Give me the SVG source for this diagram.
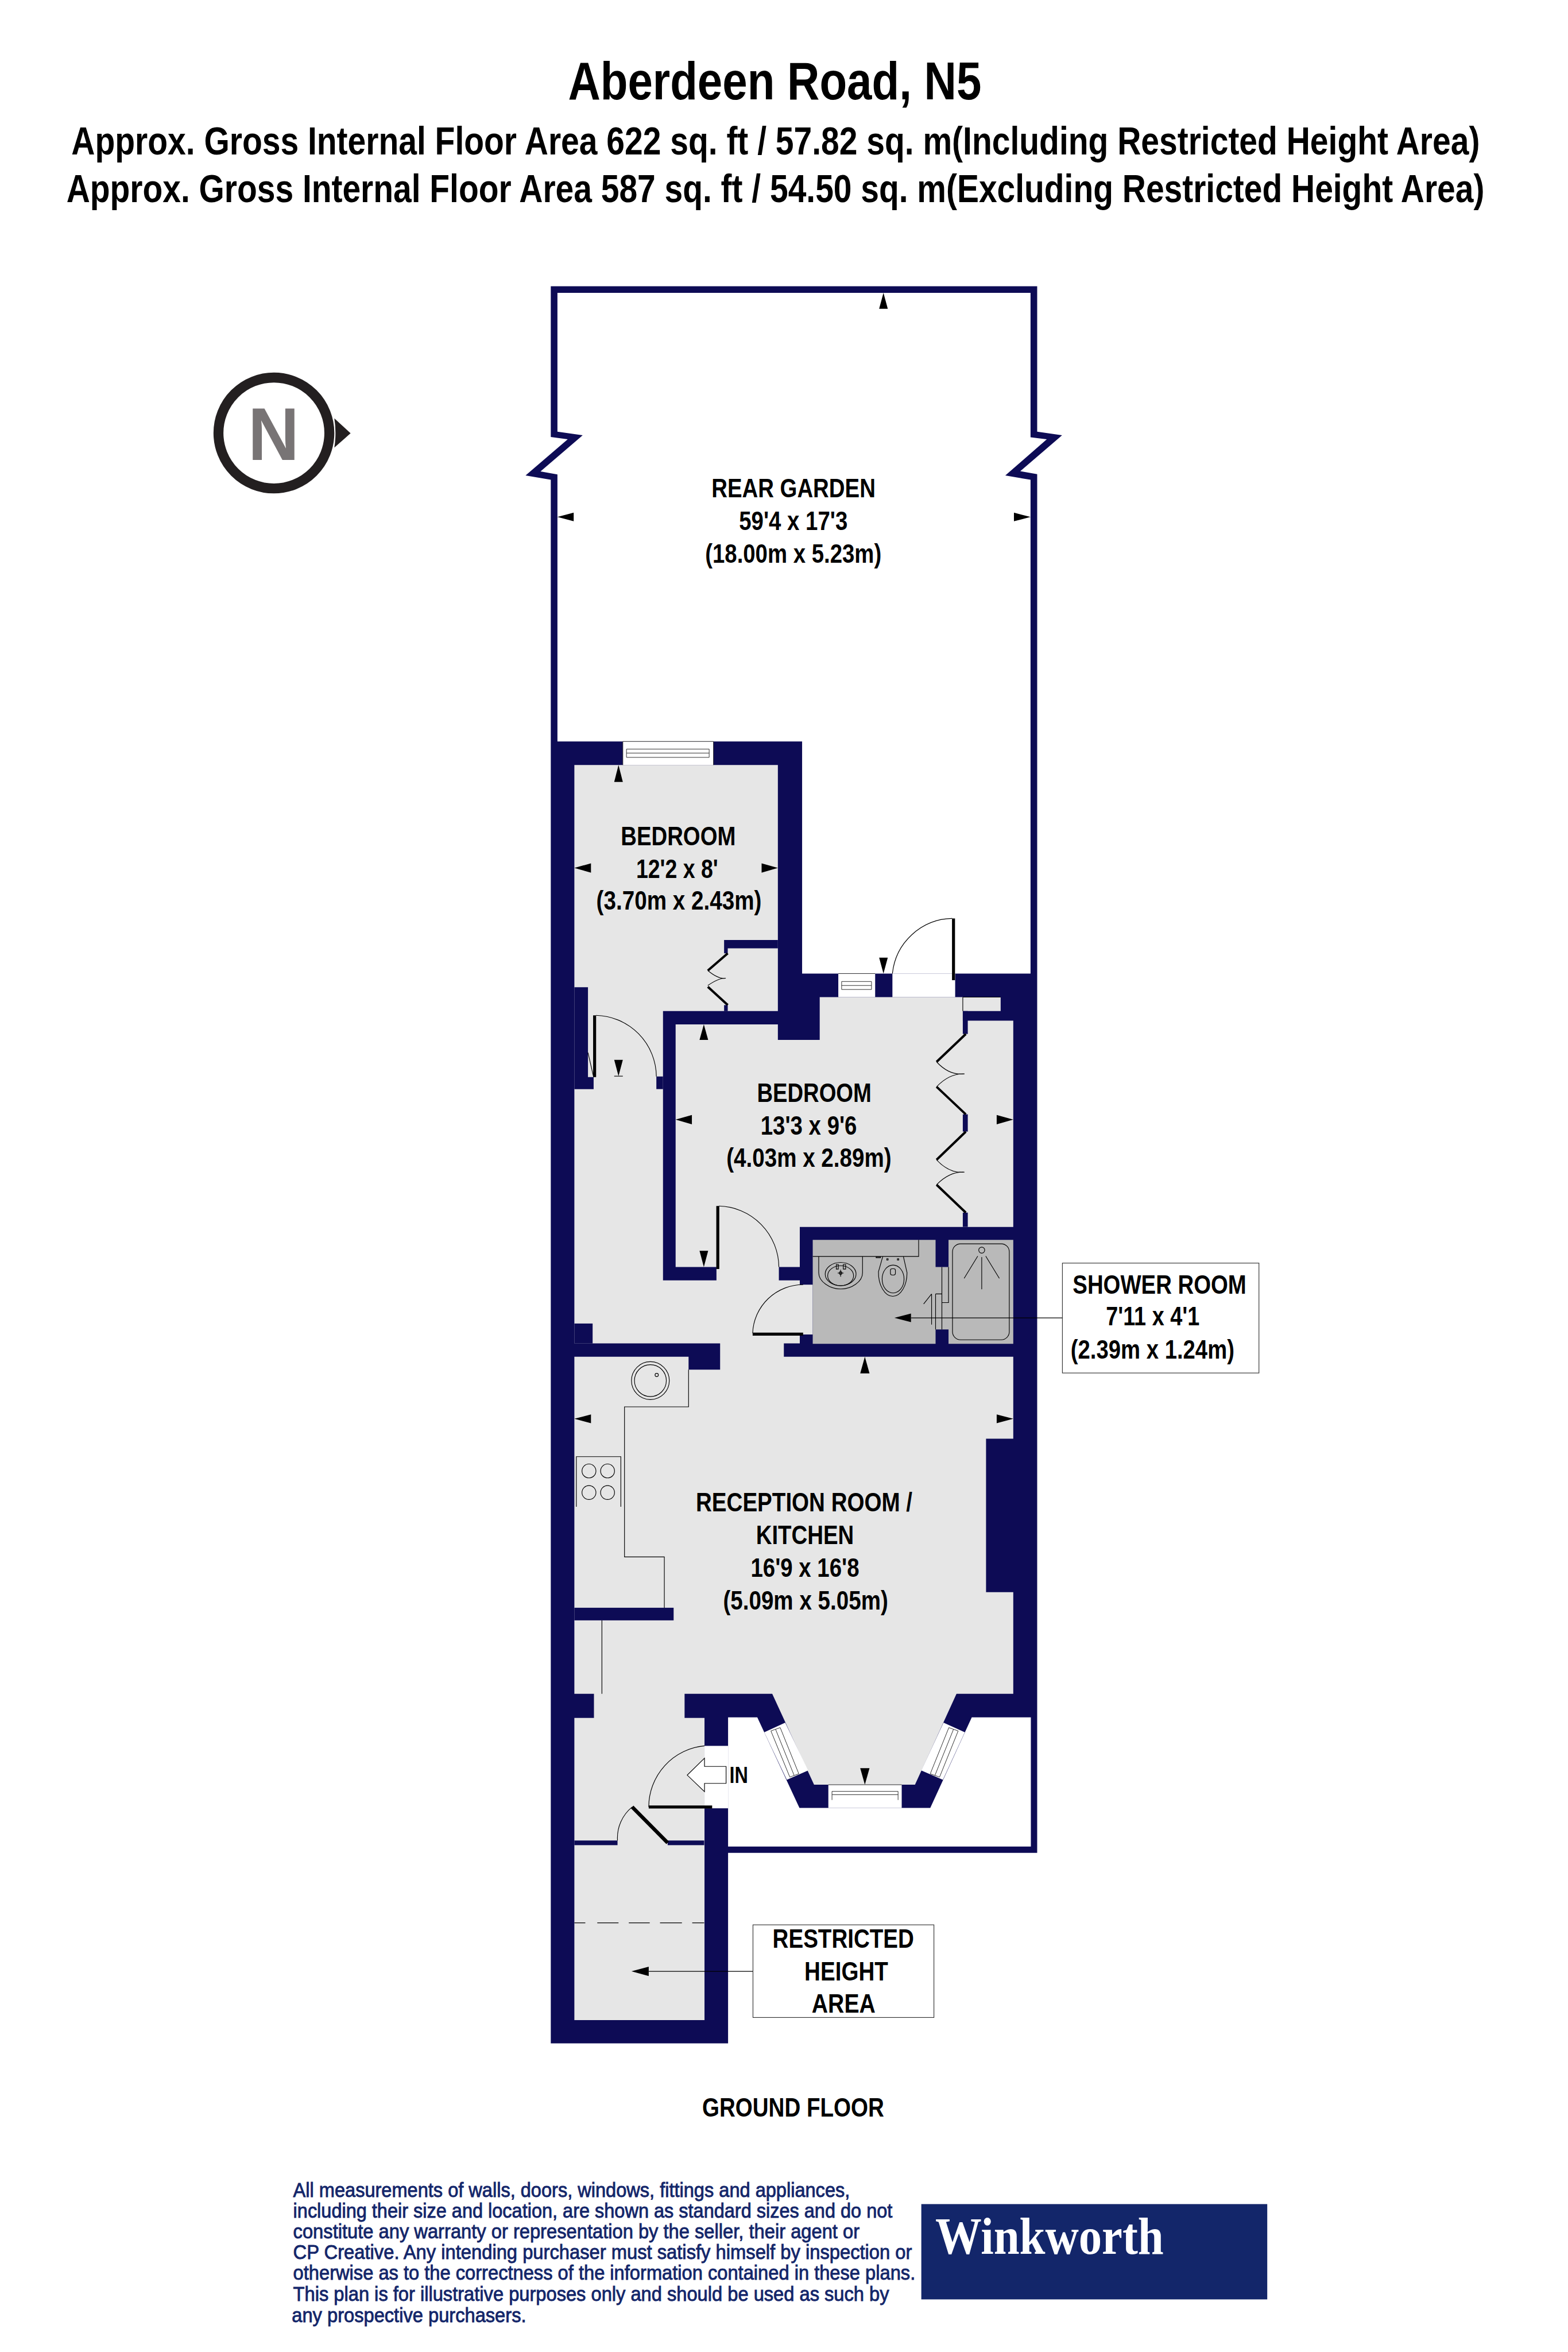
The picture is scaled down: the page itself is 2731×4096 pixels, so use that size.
<svg xmlns="http://www.w3.org/2000/svg" width="2731" height="4096" viewBox="0 0 2731 4096">
<style>
.nv{fill:#0d0b55}
.lg{fill:#e6e6e6}
.dg{fill:#b9b9b9}
.wh{fill:#fff}
.thin{fill:none;stroke:#000;stroke-width:2}
.win{fill:none;stroke:#222;stroke-width:1.6}
.thick{fill:none;stroke:#000;stroke-width:9}
.ar{fill:#000}
.lb{font-family:"Liberation Sans",Arial,sans-serif;font-weight:700;font-size:80px;fill:#000}
.ti{font-family:"Liberation Sans",Arial,sans-serif;font-weight:700;font-size:119px;fill:#000}
.fn{font-family:"Liberation Sans",Arial,sans-serif;font-size:62px;fill:#13266a;stroke:#13266a;stroke-width:1.6}
</style>
<rect width="2731" height="4096" fill="#fff"/>
<g transform="scale(0.57825)">
<g id="title">
<text class="ti" x="1711" y="300" style="font-size:160px" textLength="1245" lengthAdjust="spacingAndGlyphs">Aberdeen Road, N5</text>
<text class="ti" transform="scale(.72 1)" x="298.600" y="465" textLength="5892" lengthAdjust="spacingAndGlyphs">Approx. Gross Internal Floor Area 622 sq. ft / 57.82 sq. m(Including Restricted Height Area)</text>
<text class="ti" transform="scale(.72 1)" x="277.800" y="609" textLength="5932" lengthAdjust="spacingAndGlyphs">Approx. Gross Internal Floor Area 587 sq. ft / 54.50 sq. m(Excluding Restricted Height Area)</text>
</g>
<g id="north">
<circle cx="825" cy="1304" r="167" fill="none" stroke="#231f20" stroke-width="30"/>
<path d="M1007 1260L1056 1305L1007 1348Q1014 1304 1007 1260Z" fill="#231f20"/>
<text x="747" y="1385" textLength="154" lengthAdjust="spacingAndGlyphs" style="font-family:'Liberation Sans',Arial,sans-serif;font-weight:700;font-size:226px;fill:#787475">N</text>
</g>
<g id="walls">
<polygon class="nv" points="1659,862 3124,862 3124,1300 3199,1311 3073,1419 3124,1428 3124,5580 2193,5580 2193,6154 1659,6154 1659,1445 1583,1432 1710,1323 1659,1316"/>
<polygon class="wh" points="1679,882 3104,882 3104,1317 3153,1323 3028,1432 3104,1445 3104,2932 2416,2932 2416,2233 1679,2233 1679,1429 1628,1420 1755,1311 1679,1300"/>
<polygon class="wh" points="2193,5172 2281,5172 2408,5445 2802,5445 2927,5172 3105,5172 3105,5561 2193,5561"/>
<polygon class="lg" points="1730,2304 2343,2304 2343,3045 1997,3045 1997,3856 2158,3856 2158,3816 2035,3816 2035,3085 2343,3085 2343,3132 2469,3132 2469,3003 3014,3003 3014,3045 2900,3045 2900,3074 3052,3074 3052,3695 2409,3695 2409,3816 2346,3816 2346,3856 2409,3856 2409,3869 2448,3869 2448,4019 2409,4019 2409,4046 2361,4046 2361,4086 3052,4086 3052,4333 2970,4333 2970,4795 3052,4795 3052,5101 2881,5101 2756,5375 2452,5375 2326,5101 2062,5101 2062,5174 2122,5174 2122,6084 1730,6084 1730,5174 1789,5174 1789,5101 1730,5101 1730,4086 2074,4086 2074,4125 2169,4125 2169,4046 1730,4046"/>
<rect class="wh" x="2122" y="5258" width="71" height="188"/>
<rect class="wh" x="2688" y="2932" width="189" height="71"/>
<polygon class="dg" points="2448,3734 2818,3734 2818,3816 2857,3816 2857,3734 3052,3734 3052,4047 2857,4047 2857,4004 2818,4004 2818,4047 2448,4047"/>
</g>
<g id="inner-walls">
<polygon class="nv" points="1730,2973 1771,2973 1771,3244 1788,3244 1788,3280 1730,3280"/>
<rect class="nv" x="1977" y="3242" width="20" height="38"/>
<polygon class="nv" points="2181,2831 2343,2831 2343,2856 2192,2856 2192,2871 2181,2871"/>
<rect class="nv" x="2181" y="3027" width="11" height="18"/>
<rect class="nv" x="1730" y="3986" width="55" height="60"/>
<rect class="nv" x="2900" y="3045" width="15" height="69"/>
<rect class="nv" x="2900" y="3356" width="15" height="52"/>
<rect class="nv" x="2900" y="3652" width="15" height="43"/>
<rect class="nv" x="1730" y="4842" width="299" height="38"/>
<rect class="nv" x="1730" y="5543" width="130" height="14"/>
<rect class="nv" x="2011" y="5543" width="110" height="14"/>
</g>
<g id="windows">
<rect class="wh" x="1876" y="2233" width="273" height="71"/>
<path class="win" d="M1876 2233H2149M1876 2233V2304M2149 2233V2304M1887 2256H2136V2281H1887ZM1887 2268H2136"/>
<rect class="wh" x="2525" y="2932" width="111" height="71"/>
<path class="win" d="M2525 2932H2636M2535 2956H2625V2980H2535ZM2535 2968H2625"/>
<rect class="wh" x="2495" y="5375" width="221" height="70"/>
<path class="win" d="M2495 5375H2716M2506 5395H2705M2506 5395V5421M2705 5395V5421M2506 5405H2705"/>
<polygon class="wh" points="2302,5217 2365,5188 2434,5332 2370,5360"/>
<path class="win" d="M2322 5213L2350 5203L2406 5342L2379 5352ZM2336 5208L2392 5347"/>
<polygon class="wh" points="2842,5188 2906,5217 2840,5360 2775,5332"/>
<path class="win" d="M2886 5213L2858 5203L2802 5342L2830 5352ZM2872 5208L2816 5347"/>
</g>
<g id="doors">
<path class="thick" d="M2872 2766V2952M1791 3058V3244M2162 3632V3822M2267 4018H2419M1954 5442H2145"/>
<path class="thick" style="stroke-width:11" d="M1904 5442L2011 5550"/>
<path class="thin" d="M2868 2766A185 185 0 0 0 2688 2932M1795 3058A186 186 0 0 1 1977 3242M1771 3170L1788 3244M2165 3632A186 186 0 0 1 2346 3816M2419 3869A152 152 0 0 0 2267 4015M2122 5258A185 185 0 0 0 1954 5442M1904 5442A120 120 0 0 0 1860 5543"/>
<path class="thick" style="stroke-width:7" d="M2192 2871L2132 2923M2132 2972L2192 3027M2909 3114L2821 3198M2821 3273L2909 3356M2909 3408L2821 3493M2821 3568L2909 3652"/>
<path class="thin" d="M2132 2923Q2165 2950 2186 2946Q2165 2945 2132 2968M2821 3198Q2860 3240 2905 3234Q2860 3232 2821 3273M2821 3493Q2860 3535 2905 3530Q2860 3528 2821 3568M2900 3003V3045M2900 3003H3014"/>
</g>
<g id="fittings">
<circle class="thin" cx="1959" cy="4158" r="57"/>
<circle class="thin" cx="1959" cy="4158" r="48"/>
<circle class="thin" cx="1978" cy="4141" r="5"/>
<path class="thin" d="M2074 4125V4237H1881V4689H2001V4842M1736 4538V4387H1870V4538M1813 4880V5101"/>
<circle class="thin" cx="1774" cy="4430" r="21"/><circle class="thin" cx="1830" cy="4430" r="21"/>
<circle class="thin" cx="1774" cy="4495" r="21"/><circle class="thin" cx="1830" cy="4495" r="21"/>
<path class="thin" d="M1730 5791H1763M1799 5791H1863M1894 5791H1957M1988 5791H2054M2085 5791H2121"/>
<path class="thin" d="M2448 3784H2767V3734"/>
<path class="thin" d="M2466 3784V3833C2466 3860 2500 3882 2532 3882C2565 3882 2598 3860 2598 3833V3784"/>
<ellipse class="thin" cx="2532" cy="3837" rx="46.500" ry="35"/>
<ellipse class="thin" cx="2532" cy="3842" rx="39" ry="30"/>
<circle class="thin" cx="2532" cy="3834" r="4"/>
<path class="thin" d="M2523 3834H2541M2532 3824V3845M2519 3808H2525V3822H2519ZM2540 3808H2547V3822H2540Z"/>
<path class="thin" d="M2659 3784L2646 3830C2645 3870 2665 3904 2689 3904C2714 3904 2732 3870 2732 3833L2721 3784"/>
<ellipse class="thin" cx="2690" cy="3852" rx="33" ry="42"/>
<rect class="thin" x="2682" y="3821" width="15" height="19" rx="5"/>
<path class="thin" d="M2671 3791h4v4h-4ZM2703 3791h4v4h-4ZM2639 3785H2652V3788H2639Z"/>
<rect class="thin" x="2869" y="3746" width="171" height="289" rx="24"/>
<ellipse class="thin" cx="2957" cy="3765" rx="9" ry="9"/>
<path class="thin" d="M2945 3783L2904 3850M2969 3783L3010 3850M2957 3786V3883"/>
<path class="thin" d="M2837 3816V4004M2857 3816V3923H2837M2818 3897H2837M2818 3897V4004M2806 3897V3989M2806 3897L2782 3927"/>
</g>
<g id="connectors">
<path class="thin" d="M2744 3969H3200M2268 5937H1954"/>
<polygon class="ar" points="2694,3969 2744,3956 2744,3982"/>
<polygon class="ar" points="1902,5937 1954,5923 1954,5951"/>
<polygon points="2187,5320 2122,5320 2122,5295 2070,5346 2122,5396 2122,5371 2187,5371" fill="#fff" stroke="#000" stroke-width="2"/>
</g>
<g id="arrows">
<polygon class="ar" points="2661,882 2648,930 2674,930"/>
<polygon class="ar" points="1679,1557 1728,1544 1728,1570"/>
<polygon class="ar" points="3104,1557 3054,1544 3054,1570"/>
<polygon class="ar" points="1863,2304 1850,2355 1876,2355"/>
<polygon class="ar" points="1730,2614 1780,2600 1780,2628"/>
<polygon class="ar" points="2343,2614 2294,2600 2294,2628"/>
<polygon class="ar" points="1863,3241 1850,3192 1876,3192"/>
<path class="thin" d="M1850 3241H1876"/>
<polygon class="ar" points="2120,3085 2107,3132 2133,3132"/>
<polygon class="ar" points="2035,3372 2084,3358 2084,3386"/>
<polygon class="ar" points="3052,3372 3002,3358 3002,3386"/>
<polygon class="ar" points="2120,3816 2107,3767 2133,3767"/>
<polygon class="ar" points="2661,2932 2648,2884 2674,2884"/>
<polygon class="ar" points="2605,4086 2591,4136 2619,4136"/>
<polygon class="ar" points="1730,4273 1780,4260 1780,4286"/>
<polygon class="ar" points="3052,4273 3002,4260 3002,4286"/>
<polygon class="ar" points="2605,5375 2591,5325 2619,5325"/>
</g>
<g id="label-rear-garden">
<text class="lb" x="2143" y="1498" textLength="494" lengthAdjust="spacingAndGlyphs">REAR GARDEN</text>
<text class="lb" x="2226" y="1596" textLength="327" lengthAdjust="spacingAndGlyphs">59'4 x 17'3</text>
<text class="lb" x="2124" y="1694" textLength="531" lengthAdjust="spacingAndGlyphs">(18.00m x 5.23m)</text>
</g>
<g id="label-bedroom-1">
<text class="lb" x="1870" y="2545" textLength="346" lengthAdjust="spacingAndGlyphs">BEDROOM</text>
<text class="lb" x="1916" y="2644" textLength="247" lengthAdjust="spacingAndGlyphs">12'2 x 8'</text>
<text class="lb" x="1796" y="2739" textLength="498" lengthAdjust="spacingAndGlyphs">(3.70m x 2.43m)</text>
</g>
<g id="label-bedroom-2">
<text class="lb" x="2280" y="3319" textLength="345" lengthAdjust="spacingAndGlyphs">BEDROOM</text>
<text class="lb" x="2291" y="3418" textLength="290" lengthAdjust="spacingAndGlyphs">13'3 x 9'6</text>
<text class="lb" x="2188" y="3514" textLength="497" lengthAdjust="spacingAndGlyphs">(4.03m x 2.89m)</text>
</g>
<g id="label-shower-room">
<rect x="3200" y="3804" width="592" height="331" fill="#fff" stroke="#333" stroke-width="2"/>
<text class="lb" x="3231" y="3896" textLength="523" lengthAdjust="spacingAndGlyphs">SHOWER ROOM</text>
<text class="lb" x="3331" y="3992" textLength="282" lengthAdjust="spacingAndGlyphs">7'11 x 4'1</text>
<text class="lb" x="3225" y="4091" textLength="493" lengthAdjust="spacingAndGlyphs">(2.39m x 1.24m)</text>
</g>
<g id="label-reception">
<text class="lb" x="2096" y="4552" textLength="652" lengthAdjust="spacingAndGlyphs">RECEPTION ROOM /</text>
<text class="lb" x="2277" y="4651" textLength="295" lengthAdjust="spacingAndGlyphs">KITCHEN</text>
<text class="lb" x="2261" y="4749" textLength="327" lengthAdjust="spacingAndGlyphs">16'9 x 16'8</text>
<text class="lb" x="2178" y="4847" textLength="497" lengthAdjust="spacingAndGlyphs">(5.09m x 5.05m)</text>
</g>
<text class="lb" x="2197" y="5370" style="font-size:70px" textLength="56" lengthAdjust="spacingAndGlyphs">IN</text>
<g id="label-restricted">
<rect x="2268" y="5797" width="545" height="279" fill="#fff" stroke="#333" stroke-width="2"/>
<text class="lb" x="2327" y="5866" textLength="426" lengthAdjust="spacingAndGlyphs">RESTRICTED</text>
<text class="lb" x="2423" y="5964" textLength="252" lengthAdjust="spacingAndGlyphs">HEIGHT</text>
<text class="lb" x="2445" y="6062" textLength="192" lengthAdjust="spacingAndGlyphs">AREA</text>
</g>
<text id="ground-floor" class="lb" x="2115" y="6375" textLength="548" lengthAdjust="spacingAndGlyphs">GROUND FLOOR</text>
<g id="disclaimer">
<text class="fn" x="883" y="6616" textLength="1677" lengthAdjust="spacingAndGlyphs">All measurements of walls, doors, windows, fittings and appliances,</text>
<text class="fn" x="883" y="6678" textLength="1805" lengthAdjust="spacingAndGlyphs">including their size and location, are shown as standard sizes and do not</text>
<text class="fn" x="883" y="6741" textLength="1706" lengthAdjust="spacingAndGlyphs">constitute any warranty or representation by the seller, their agent or</text>
<text class="fn" x="883" y="6803" textLength="1864" lengthAdjust="spacingAndGlyphs">CP Creative. Any intending purchaser must satisfy himself by inspection or</text>
<text class="fn" x="883" y="6866" textLength="1874" lengthAdjust="spacingAndGlyphs">otherwise as to the correctness of the information contained in these plans.</text>
<text class="fn" x="883" y="6930" textLength="1795" lengthAdjust="spacingAndGlyphs">This plan is for illustrative purposes only and should be used as such by</text>
<text class="fn" x="879" y="6994" textLength="706" lengthAdjust="spacingAndGlyphs">any prospective purchasers.</text>
</g>
<g id="logo">
<rect x="2775" y="6638" width="1042" height="287" fill="#13266a"/>
<text x="2817" y="6787" textLength="688" lengthAdjust="spacingAndGlyphs" style="font-family:'Liberation Serif','Times New Roman',serif;font-weight:700;font-size:156px;fill:#fff">Winkworth</text>
</g>
</g>
</svg>
